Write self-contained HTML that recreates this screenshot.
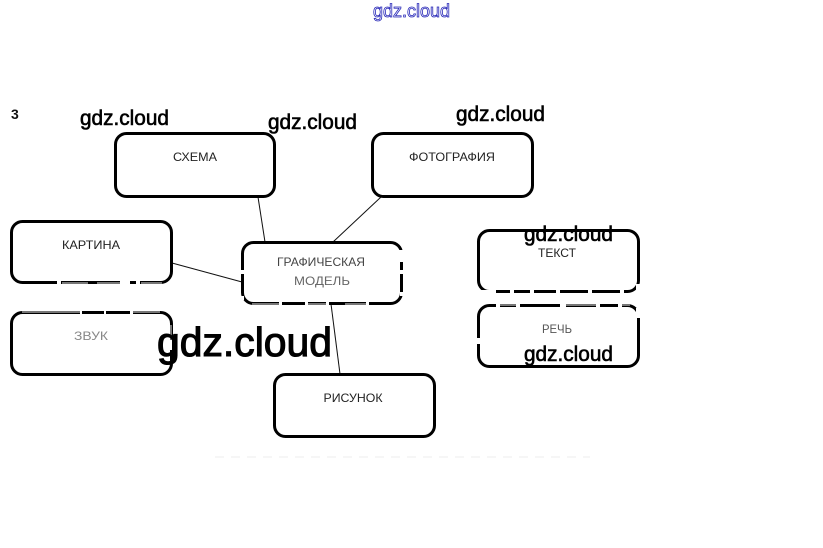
<!DOCTYPE html>
<html>
<head>
<meta charset="utf-8">
<style>
html,body{margin:0;padding:0;background:#fff}
svg{display:block}
.b{fill:none;stroke:#000;stroke-width:3}
.l{stroke:#111;stroke-width:1;fill:none}
.w{stroke:#fff;fill:none}
.t{font-family:"Liberation Sans",sans-serif;font-size:12px;fill:#222;text-anchor:middle}
.g{font-family:"Liberation Sans",sans-serif;font-weight:400;fill:#000;stroke:#000;stroke-width:.6;text-anchor:start}
</style>
</head>
<body>
<svg width="823" height="548" viewBox="0 0 823 548" xmlns="http://www.w3.org/2000/svg">
<rect width="823" height="548" fill="#fff"/>

<text x="373" y="17" textLength="77" lengthAdjust="spacingAndGlyphs" font-family="Liberation Sans, sans-serif" font-size="18" fill="#fff" stroke="#2828b8" stroke-width=".8">gdz.cloud</text>

<text x="11" y="119" font-family="Liberation Sans, sans-serif" font-size="14" font-weight="700" fill="#111">3</text>

<!-- faint speckle band -->
<g stroke="#f6f6f6" stroke-width="2" stroke-dasharray="9 7" fill="none">
<path d="M215 457H590"/>
</g>

<!-- connectors -->
<path class="l" d="M258 197L265 242"/>
<path class="l" d="M381 197L333 242"/>
<path class="l" d="M172 263L242 282"/>
<path class="l" d="M331 304L340 374"/>

<!-- boxes -->
<rect class="b" x="115.500" y="133.500" width="159" height="63" rx="11"/>
<rect class="b" x="372.500" y="133.500" width="160" height="63" rx="11"/>
<rect class="b" x="11.500" y="221.500" width="160" height="61" rx="11"/>
<rect class="b" x="11.500" y="312.500" width="160" height="62" rx="11"/>
<rect class="b" x="242.500" y="242.500" width="159" height="61" rx="11"/>
<rect class="b" x="274.500" y="374.500" width="160" height="62" rx="11"/>
<rect class="b" x="478.500" y="230.500" width="160" height="61" rx="11"/>
<rect class="b" x="478.500" y="305.500" width="160" height="61" rx="11"/>

<!-- faded watermark band breaking the outlines -->
<g class="w" stroke-width="4">
<path d="M57 283H61M120 283H130M136 283H140"/>
<path d="M80 312H82M104 312H106M130 312H133M170 336V350"/>
<path d="M242 270V274M402 270V274M242 296V300M402 292V296"/>
<path d="M279 304H282M305 304H308M326 304H329M366 304H369"/>
<path d="M401 250V262"/>
<path d="M478 292H496M510 292H514M530 292H534M556 292H560M588 292H592M620 292H624"/>
<path d="M496 305H500M516 305H520M560 305H566M596 305H600M618 305H622"/>
<path d="M638 284V290M638 308V318M478 338V344"/>
</g>
<g stroke="#777" stroke-width="2" fill="none">
<path d="M62 283H88M97 283H120M141 283H162"/>
<path d="M252 304H279M308 304H326M345 304H366M500 305H516M566 305H596M622 305H630"/>
<path d="M22 312H80M133 312H160M171 325V340"/>
</g>

<!-- labels -->
<text class="t" x="195" y="161" textLength="44" lengthAdjust="spacingAndGlyphs">СХЕМА</text>
<text class="t" x="452" y="161" textLength="86" lengthAdjust="spacingAndGlyphs">ФОТОГРАФИЯ</text>
<text class="t" x="91" y="249" textLength="58" lengthAdjust="spacingAndGlyphs">КАРТИНА</text>
<text class="t" x="91" y="340" textLength="34" lengthAdjust="spacingAndGlyphs" style="fill:#888">ЗВУК</text>
<text class="t" x="321" y="266" textLength="88" lengthAdjust="spacingAndGlyphs" style="fill:#444">ГРАФИЧЕСКАЯ</text>
<text class="t" x="322" y="285" textLength="56" lengthAdjust="spacingAndGlyphs" style="fill:#666">МОДЕЛЬ</text>
<text class="t" x="353" y="402" textLength="59" lengthAdjust="spacingAndGlyphs">РИСУНОК</text>
<text class="t" x="557" y="257" textLength="38" lengthAdjust="spacingAndGlyphs">ТЕКСТ</text>
<text class="t" x="557" y="333" textLength="30" lengthAdjust="spacingAndGlyphs" style="fill:#555">РЕЧЬ</text>

<!-- watermarks -->
<text class="g" x="80" y="125" font-size="21" textLength="89" lengthAdjust="spacingAndGlyphs">gdz.cloud</text>
<text class="g" x="268" y="129" font-size="21" textLength="89" lengthAdjust="spacingAndGlyphs">gdz.cloud</text>
<text class="g" x="456" y="121" font-size="21" textLength="89" lengthAdjust="spacingAndGlyphs">gdz.cloud</text>
<text class="g" x="524" y="241" font-size="21" textLength="89" lengthAdjust="spacingAndGlyphs">gdz.cloud</text>
<text class="g" x="524" y="361" font-size="21" textLength="89" lengthAdjust="spacingAndGlyphs">gdz.cloud</text>
<text class="g" x="157" y="356" font-size="41" textLength="175" lengthAdjust="spacingAndGlyphs" style="stroke-width:1.1">gdz.cloud</text>
</svg>
</body>
</html>
